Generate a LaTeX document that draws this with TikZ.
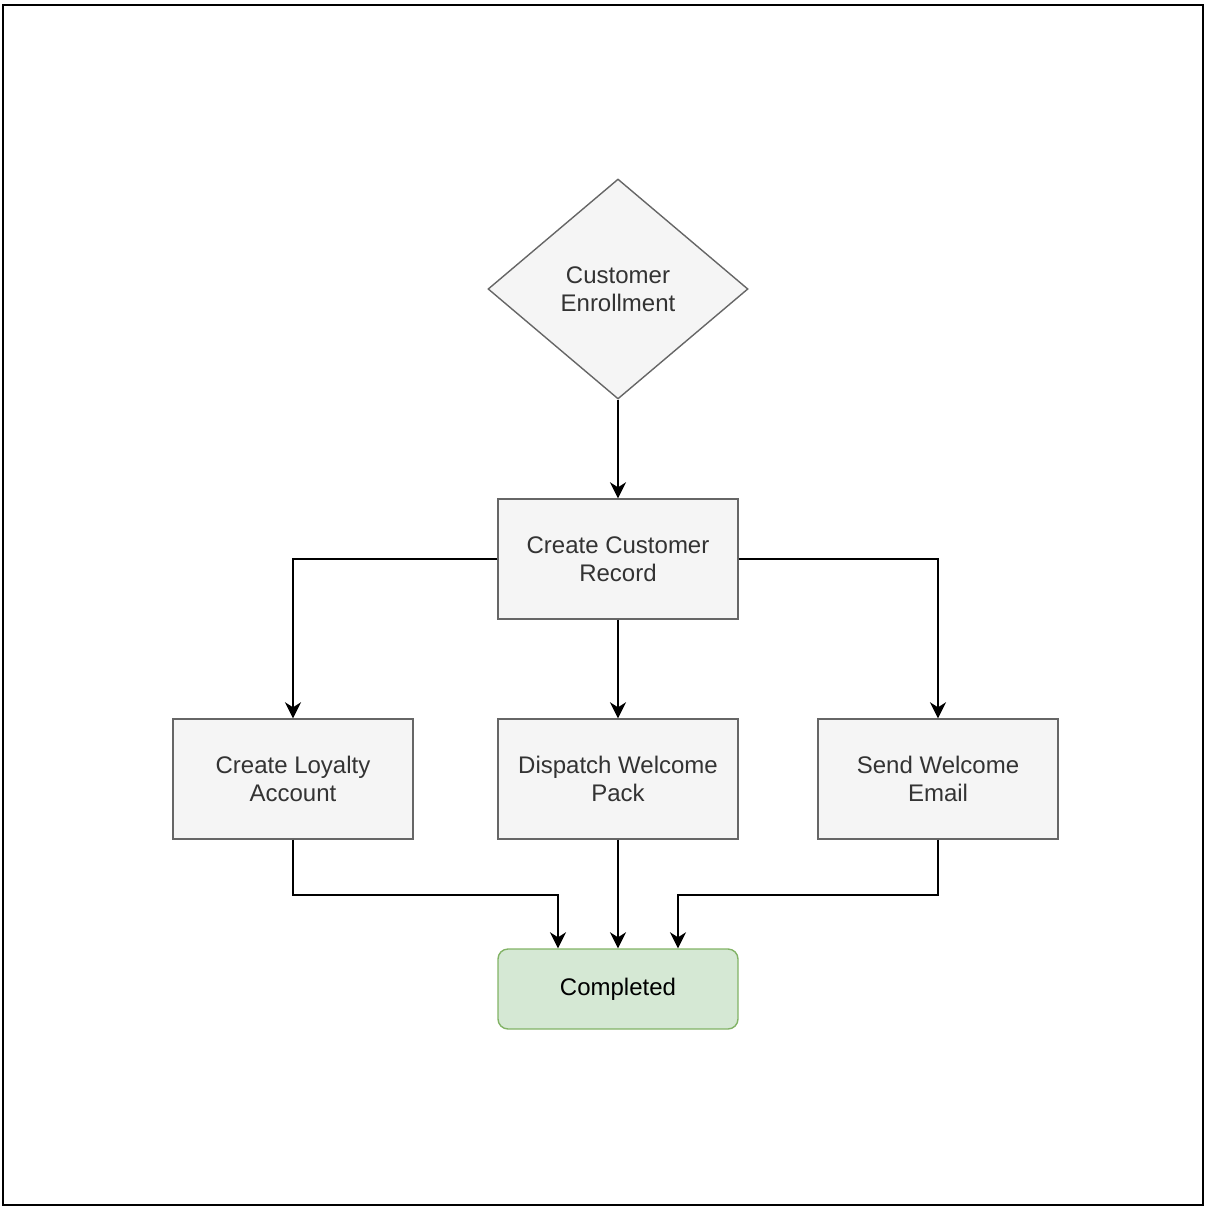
\documentclass[tikz,border=0pt]{standalone}
\usepackage{fontspec}
\setmainfont{Liberation Sans}
\usepackage{xcolor}
\usetikzlibrary{shapes.geometric}
\usetikzlibrary{arrows.meta}

\definecolor{boxfill}{HTML}{F5F5F5}
\definecolor{boxline}{HTML}{666666}
\definecolor{boxtext}{HTML}{333333}
\definecolor{donefill}{HTML}{D5E8D4}
\definecolor{doneline}{HTML}{82B366}

\begin{document}
\begin{tikzpicture}[x=0.5pt,y=-0.5pt,
  font=\fontsize{12}{14}\selectfont,
  flow/.style={-{Stealth[length=8pt,width=8pt,inset=2.5pt]},line width=1pt},
  task/.style={draw=boxline,fill=boxfill,text=boxtext,line width=0.7pt,
    minimum width=120pt,minimum height=60pt,inner sep=0pt,align=center},
  choice/.style={diamond,draw=boxline,fill=boxfill,text=boxtext,line width=0.7pt,
    minimum width=130pt,minimum height=110pt,inner sep=0pt,aspect=1.18,align=center},
  finish/.style={draw=doneline,fill=donefill,text=black,line width=0.7pt,rounded corners=5pt,
    minimum width=120pt,minimum height=40pt,inner sep=0pt,align=center}]
  \useasboundingbox (0,0) rectangle (1206,1210);
  \draw[line width=1pt] (3,5) rectangle (1203,1205);

  %%%%%%% NODES
  \node[choice] (enroll) at (618,289) {Customer\\ Enrollment};
  \node[task] (record) at (618,559) {Create Customer\\ Record};
  \node[task] (loyalty) at (293,779) {Create Loyalty\\ Account};
  \node[task] (pack) at (618,779) {Dispatch Welcome\\ Pack};
  \node[task] (email) at (938,779) {Send Welcome\\ Email};
  \node[finish] (done) at (618,989) {Completed};

  %%%%%%% CONNECTORS
  \draw[flow] (enroll.south) -- (record.north);
  \draw[flow] (record.west) -| (loyalty.north);
  \draw[flow] (record.south) -- (pack.north);
  \draw[flow] (record.east) -| (email.north);
  \draw[flow] (loyalty.south) -- ++(0,55) -| ([xshift=-30pt]done.north);
  \draw[flow] (pack.south) -- (done.north);
  \draw[flow] (email.south) -- ++(0,55) -| ([xshift=30pt]done.north);
\end{tikzpicture}
\end{document}
